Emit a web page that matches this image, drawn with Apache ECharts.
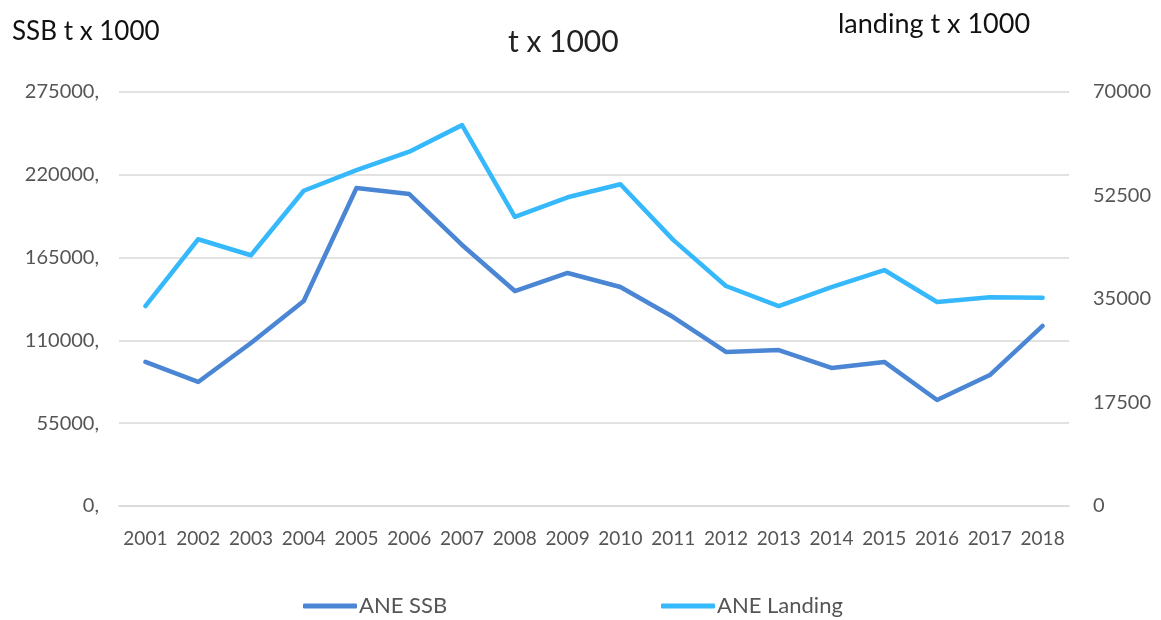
<!DOCTYPE html>
<html lang="en">
  <head>
    <meta charset="UTF-8" />
    <title>ANE SSB and Landing</title>
    <style>
      html, body { margin: 0; padding: 0; background: #fff; }
      #main { width: 1161px; height: 620px; }
    </style>
  </head>
  <body>
    <div id="main"></div>
    <script src="https://cdn.jsdelivr.net/npm/echarts@6/dist/echarts.min.js"></script>
    <script>
      var years = ["2001", "2002", "2003", "2004", "2005", "2006", "2007", "2008", "2009",
        "2010", "2011", "2012", "2013", "2014", "2015", "2016", "2017", "2018"];
      var ssb = [95700, 82400, 108300, 136200, 211200, 207200, 173400, 142800, 154800,
        145500, 125500, 102300, 103600, 91700, 95700, 70400, 87000, 119600];
      var landing = [33800, 45100, 42400, 53300, 56800, 59900, 64400, 48900, 52200,
        54400, 45000, 37200, 33800, 37000, 39900, 34500, 35300, 35200];

      var font = "Lato, 'Open Sans', sans-serif";
      var chart = echarts.init(document.getElementById("main"));

      function legendAt(left, name) {
        return {
          top: 590, left: left,
          itemWidth: 54, itemHeight: 5, icon: "roundRect",
          textStyle: { fontSize: 22, color: "#555", fontFamily: font, padding: [0, 0, 0, -3] },
          data: [name]
        };
      }

      chart.setOption({
        animation: false,
        textStyle: { fontFamily: font },
        title: [
          { text: "t x 1000", left: 503, top: 22,
            textStyle: { fontSize: 30, fontWeight: "normal", color: "#222", fontFamily: font } },
          { text: "SSB t x 1000", left: 7, top: 14,
            textStyle: { fontSize: 26, fontWeight: "normal", color: "#111", fontFamily: font } },
          { text: "landing t x 1000", left: 833, top: 6,
            textStyle: { fontSize: 27, fontWeight: "normal", color: "#111", fontFamily: font } }
        ],
        legend: [legendAt(298, "ANE SSB"), legendAt(656, "ANE Landing")],
        grid: { left: 119, right: 92, top: 92, bottom: 114 },
        xAxis: {
          type: "category",
          data: years,
          boundaryGap: true,
          axisLine: { lineStyle: { color: "#d9d9d9", width: 1.5 } },
          axisTick: { show: false },
          axisLabel: { color: "#555", fontSize: 19, margin: 23, interval: 0 }
        },
        yAxis: [
          {
            type: "value", min: 0, max: 275000, interval: 55000,
            axisLine: { show: false }, axisTick: { show: false },
            axisLabel: { color: "#555", fontSize: 20, margin: 20,
              formatter: function (v) { return v + ","; } },
            splitLine: { lineStyle: { color: "#d9d9d9", width: 1.5 } }
          },
          {
            type: "value", min: 0, max: 70000, interval: 17500,
            axisLine: { show: false }, axisTick: { show: false },
            axisLabel: { color: "#555", fontSize: 20, margin: 24,
              formatter: function (v) { return String(v); } },
            splitLine: { show: false }
          }
        ],
        series: [
          {
            name: "ANE SSB", type: "line", yAxisIndex: 0, data: ssb,
            symbol: "none", color: "#4a86d4",
            lineStyle: { width: 4.5, cap: "round", join: "round" }
          },
          {
            name: "ANE Landing", type: "line", yAxisIndex: 1, data: landing,
            symbol: "none", color: "#36b8fc",
            lineStyle: { width: 4.5, cap: "round", join: "round" }
          }
        ]
      });
    </script>
  </body>
</html>
